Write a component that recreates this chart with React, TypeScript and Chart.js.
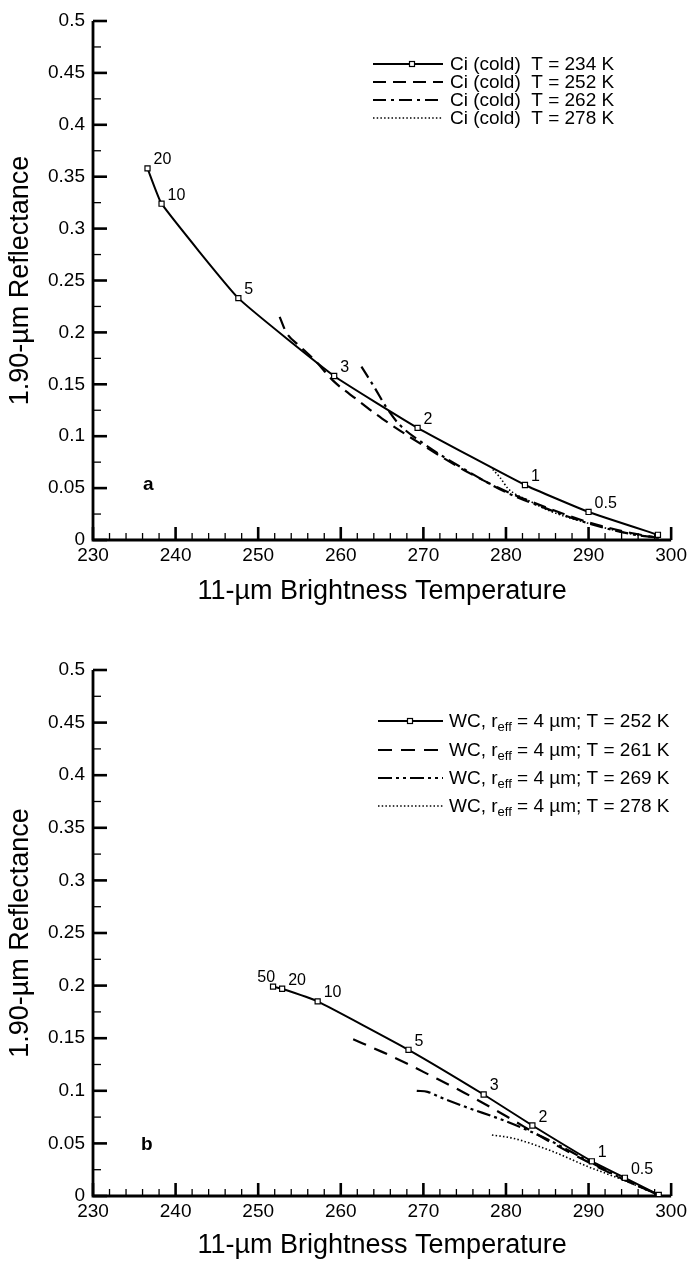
import React, { useEffect, useRef } from "react";
import { Chart, registerables } from "chart.js";

Chart.register(...registerables);

const FONT = "'Liberation Sans', Arial, Helvetica, sans-serif";

// ---------- axes ----------
const xMin = 230;
const xMax = 300;
const xTickLabels = ["230", "240", "250", "260", "270", "280", "290", "300"];
const yTickLabels = ["0", "0.05", "0.1", "0.15", "0.2", "0.25", "0.3", "0.35", "0.4", "0.45", "0.5"];
const xTitle = "11-\u00b5m Brightness Temperature";
const yTitle = "1.90-\u00b5m Reflectance";

// ---------- panel a ----------
const aLetter = "a";
const aLetterPos = [236.7, 0.053];
const aLegend = [
  "Ci (cold)  T = 234 K",
  "Ci (cold)  T = 252 K",
  "Ci (cold)  T = 262 K",
  "Ci (cold)  T = 278 K",
];
const aT234X = [236.6, 238.3, 247.6, 259.2, 269.3, 282.3, 290.0, 298.4];
const aT234Y = [0.358, 0.324, 0.233, 0.158, 0.108, 0.053, 0.027, 0.005];
const aT234Tags = ["20", "10", "5", "3", "2", "1", "0.5", ""];
const aT252X = [252.6, 253.4, 255, 257, 259, 262, 265, 270, 275, 280, 285, 290, 295, 298.5];
const aT252Y = [0.215, 0.2, 0.187, 0.172, 0.154, 0.135, 0.117, 0.091, 0.067, 0.047, 0.031, 0.017, 0.007, 0.002];
const aT262X = [262.5, 264, 265.5, 267, 270, 275, 280, 285, 290, 295, 298.5];
const aT262Y = [0.167, 0.148, 0.128, 0.112, 0.093, 0.068, 0.046, 0.03, 0.016, 0.006, 0.002];
const aT278X = [278.4, 279.3, 280.2, 281, 283, 285, 290, 295, 298.5];
const aT278Y = [0.068, 0.06, 0.05, 0.045, 0.037, 0.029, 0.016, 0.006, 0.002];

// ---------- panel b ----------
const bLetter = "b";
const bLetterPos = [236.5, 0.049];
const bLegend = [
  "WC, r_{eff} = 4 \u00b5m; T = 252 K",
  "WC, r_{eff} = 4 \u00b5m; T = 261 K",
  "WC, r_{eff} = 4 \u00b5m; T = 269 K",
  "WC, r_{eff} = 4 \u00b5m; T = 278 K",
];
const bT252X = [251.8, 252.9, 257.2, 268.2, 277.3, 283.2, 290.4, 294.4, 298.5];
const bT252Y = [0.199, 0.197, 0.185, 0.139, 0.0965, 0.067, 0.033, 0.0173, 0.001];
const bT252Tags = ["50", "20", "10", "5", "3", "2", "1", "0.5", ""];
const bT261X = [261.5, 265, 268, 270, 275, 280, 285, 290, 295, 298.5];
const bT261Y = [0.149, 0.137, 0.126, 0.118, 0.098, 0.076, 0.053, 0.032, 0.013, 0.001];
const bT269X = [269.2, 270.5, 272, 275, 280, 285, 290, 295, 298.5];
const bT269Y = [0.1, 0.099, 0.094, 0.085, 0.071, 0.054, 0.033, 0.013, 0.001];
const bT278X = [278.3, 280.8, 285.6, 289.9, 293.6, 298.5];
const bT278Y = [0.058, 0.055, 0.0425, 0.028, 0.017, 0.001];

type Series = { label: string; x: number[]; y: number[]; tags?: string[]; dash: number[]; width: number };

type PanelCfg = {
  series: Series[];
  letter: string;
  letterPos: number[];
  legendLine: [number, number];
  legendMarkerX: number;
  legendTextX: number;
  legendRows: number[];
  leftTags: string[];
};

function drawRich(ctx: CanvasRenderingContext2D, text: string, x: number, y: number) {
  // supports "_{sub}"
  const parts = text.split(/(_\{[^}]*\})/);
  let cx = x;
  for (const p of parts) {
    if (!p) continue;
    if (p.startsWith("_{")) {
      const s = p.slice(2, -1);
      ctx.font = `13px ${FONT}`;
      ctx.fillText(s, cx, y + 5);
      cx += ctx.measureText(s).width;
    } else {
      ctx.font = `19px ${FONT}`;
      ctx.fillText(p, cx, y);
      cx += ctx.measureText(p).width;
    }
  }
}

function paperPlugin(cfg: PanelCfg) {
  return {
    id: "paper",
    beforeDatasetsDraw(chart: any) {
      const { ctx, chartArea } = chart;
      const xs = chart.scales.x;
      const ys = chart.scales.y;
      ctx.save();
      ctx.strokeStyle = "#000";
      ctx.lineCap = "butt";
      // x ticks (inward)
      for (let v = xMin; v <= xMax; v += 2) {
        const px = xs.getPixelForValue(v);
        const major = (v - xMin) % 10 === 0;
        ctx.lineWidth = major ? 2.6 : 1.3;
        const len = major ? 13 : 7;
        ctx.beginPath();
        ctx.moveTo(px, chartArea.bottom);
        ctx.lineTo(px, chartArea.bottom - len);
        ctx.stroke();
      }
      // y ticks (inward)
      for (let i = 0; i <= 20; i++) {
        const py = ys.getPixelForValue(i * 0.025);
        const major = i % 2 === 0;
        ctx.lineWidth = major ? 2.6 : 1.3;
        const len = major ? 14 : 8;
        ctx.beginPath();
        ctx.moveTo(chartArea.left, py);
        ctx.lineTo(chartArea.left + len, py);
        ctx.stroke();
      }
      // axis lines
      ctx.lineWidth = 2.8;
      ctx.beginPath();
      ctx.moveTo(chartArea.left, chartArea.top);
      ctx.lineTo(chartArea.left, chartArea.bottom);
      ctx.lineTo(chartArea.right, chartArea.bottom);
      ctx.stroke();
      ctx.restore();
    },
    afterDatasetsDraw(chart: any) {
      const { ctx } = chart;
      const xs = chart.scales.x;
      const ys = chart.scales.y;
      ctx.save();
      ctx.fillStyle = "#000";
      // marker tags
      chart.data.datasets.forEach((ds: any, di: number) => {
        const s = cfg.series[di];
        if (!s.tags) return;
        const meta = chart.getDatasetMeta(di);
        ctx.font = `16px ${FONT}`;
        ctx.textBaseline = "alphabetic";
        meta.data.forEach((pt: any, j: number) => {
          const t = s.tags![j];
          if (!t) return;
          if (cfg.leftTags.includes(t)) {
            ctx.textAlign = "right";
            ctx.fillText(t, pt.x + 2, pt.y - 5);
          } else {
            ctx.textAlign = "left";
            ctx.fillText(t, pt.x + 6, pt.y - 4);
          }
        });
      });
      // panel letter
      ctx.font = `bold 19px ${FONT}`;
      ctx.textAlign = "center";
      ctx.textBaseline = "middle";
      ctx.fillText(cfg.letter, xs.getPixelForValue(cfg.letterPos[0]), ys.getPixelForValue(cfg.letterPos[1]));
      // legend
      cfg.series.forEach((s, i) => {
        const ry = cfg.legendRows[i];
        ctx.strokeStyle = "#000";
        ctx.lineWidth = s.width;
        ctx.setLineDash(s.dash);
        ctx.beginPath();
        ctx.moveTo(cfg.legendLine[0], ry);
        ctx.lineTo(cfg.legendLine[1], ry);
        ctx.stroke();
        ctx.setLineDash([]);
        if (s.tags) {
          ctx.fillStyle = "#fff";
          ctx.lineWidth = 1.2;
          ctx.fillRect(cfg.legendMarkerX - 2.5, ry - 2.5, 5, 5);
          ctx.strokeRect(cfg.legendMarkerX - 2.5, ry - 2.5, 5, 5);
          ctx.fillStyle = "#000";
        }
        ctx.textAlign = "left";
        ctx.textBaseline = "middle";
        drawRich(ctx, s.label, cfg.legendTextX, ry + 1);
      });
      ctx.restore();
    },
  };
}

function makeChart(
  canvas: HTMLCanvasElement,
  cfg: PanelCfg,
  padTop: number,
  xBoxH: number,
  titlePadBottom: number
) {
  return new Chart(canvas, {
    type: "line",
    data: {
      datasets: cfg.series.map((s) => ({
        label: s.label,
        data: s.x.map((x, i) => ({ x, y: s.y[i] })),
        borderColor: "#000",
        borderWidth: s.width,
        borderDash: s.dash,
        pointStyle: "rect",
        pointRadius: s.tags ? 3.6 : 0,
        pointHoverRadius: s.tags ? 3.6 : 0,
        pointBackgroundColor: "#fff",
        pointBorderColor: "#000",
        pointBorderWidth: 1.2,
        cubicInterpolationMode: s.tags ? "default" : "monotone",
        tension: s.tags ? 0.12 : 0,
        fill: false,
      })),
    },
    options: {
      responsive: false,
      animation: false,
      devicePixelRatio: 1,
      layout: { padding: { top: padTop, right: 15, left: 0, bottom: 0 } },
      plugins: { legend: { display: false }, tooltip: { enabled: false } },
      events: [],
      scales: {
        x: {
          type: "linear",
          min: xMin,
          max: xMax,
          grid: { display: false, drawTicks: false },
          border: { display: false },
          ticks: {
            stepSize: 10,
            autoSkip: false,
            maxRotation: 0,
            minRotation: 0,
            padding: 4,
            color: "#000",
            font: { size: 19, family: FONT },
            callback: (v: any, i: number) => xTickLabels[i] ?? String(v),
          },
          title: {
            display: true,
            text: xTitle,
            color: "#000",
            font: { size: 27, family: FONT },
            padding: { top: 0, bottom: titlePadBottom },
          },
          afterFit: (s: any) => {
            s.height = xBoxH;
          },
        },
        y: {
          type: "linear",
          min: 0,
          max: 0.5,
          grid: { display: false, drawTicks: false },
          border: { display: false },
          ticks: {
            stepSize: 0.05,
            autoSkip: false,
            padding: 8,
            color: "#000",
            font: { size: 19, family: FONT },
            callback: (v: any, i: number) => yTickLabels[i] ?? String(v),
          },
          title: {
            display: true,
            text: yTitle,
            color: "#000",
            font: { size: 27, family: FONT },
            padding: { top: 4, bottom: 0 },
          },
          afterFit: (s: any) => {
            s.width = 93;
          },
        },
      },
    } as any,
    plugins: [paperPlugin(cfg) as any],
  });
}

const panelA: PanelCfg = {
  series: [
    { label: aLegend[0], x: aT234X, y: aT234Y, tags: aT234Tags, dash: [], width: 2 },
    { label: aLegend[1], x: aT252X, y: aT252Y, dash: [13, 7], width: 2.2 },
    { label: aLegend[2], x: aT262X, y: aT262Y, dash: [13, 5, 3, 5], width: 2.2 },
    { label: aLegend[3], x: aT278X, y: aT278Y, dash: [1.5, 2.2], width: 1.6 },
  ],
  letter: aLetter,
  letterPos: aLetterPos,
  legendLine: [373, 443],
  legendMarkerX: 412,
  legendTextX: 450,
  legendRows: [64, 82, 100, 118],
  leftTags: [],
};

const panelB: PanelCfg = {
  series: [
    { label: bLegend[0], x: bT252X, y: bT252Y, tags: bT252Tags, dash: [], width: 2 },
    { label: bLegend[1], x: bT261X, y: bT261Y, dash: [14, 9], width: 2.2 },
    { label: bLegend[2], x: bT269X, y: bT269Y, dash: [14, 4, 3, 4, 3, 4], width: 2.2 },
    { label: bLegend[3], x: bT278X, y: bT278Y, dash: [1.5, 2.2], width: 1.6 },
  ],
  letter: bLetter,
  letterPos: bLetterPos,
  legendLine: [378, 443],
  legendMarkerX: 410,
  legendTextX: 449,
  legendRows: [96, 125, 153, 181],
  leftTags: ["50"],
};

export default function App() {
  const refA = useRef<HTMLCanvasElement>(null);
  const refB = useRef<HTMLCanvasElement>(null);

  useEffect(() => {
    const ca = makeChart(refA.current!, panelA, 21, 85, 17);
    const cb = makeChart(refB.current!, panelB, 45, 66, 0);
    return () => {
      ca.destroy();
      cb.destroy();
    };
  }, []);

  return (
    <div style={{ position: "absolute", left: 0, top: 0, width: 691, height: 1262, background: "#fff" }}>
      <canvas
        ref={refA}
        width={691}
        height={625}
        style={{ position: "absolute", left: 0, top: 0, width: 691, height: 625 }}
      />
      <canvas
        ref={refB}
        width={691}
        height={637}
        style={{ position: "absolute", left: 0, top: 625, width: 691, height: 637 }}
      />
    </div>
  );
}
